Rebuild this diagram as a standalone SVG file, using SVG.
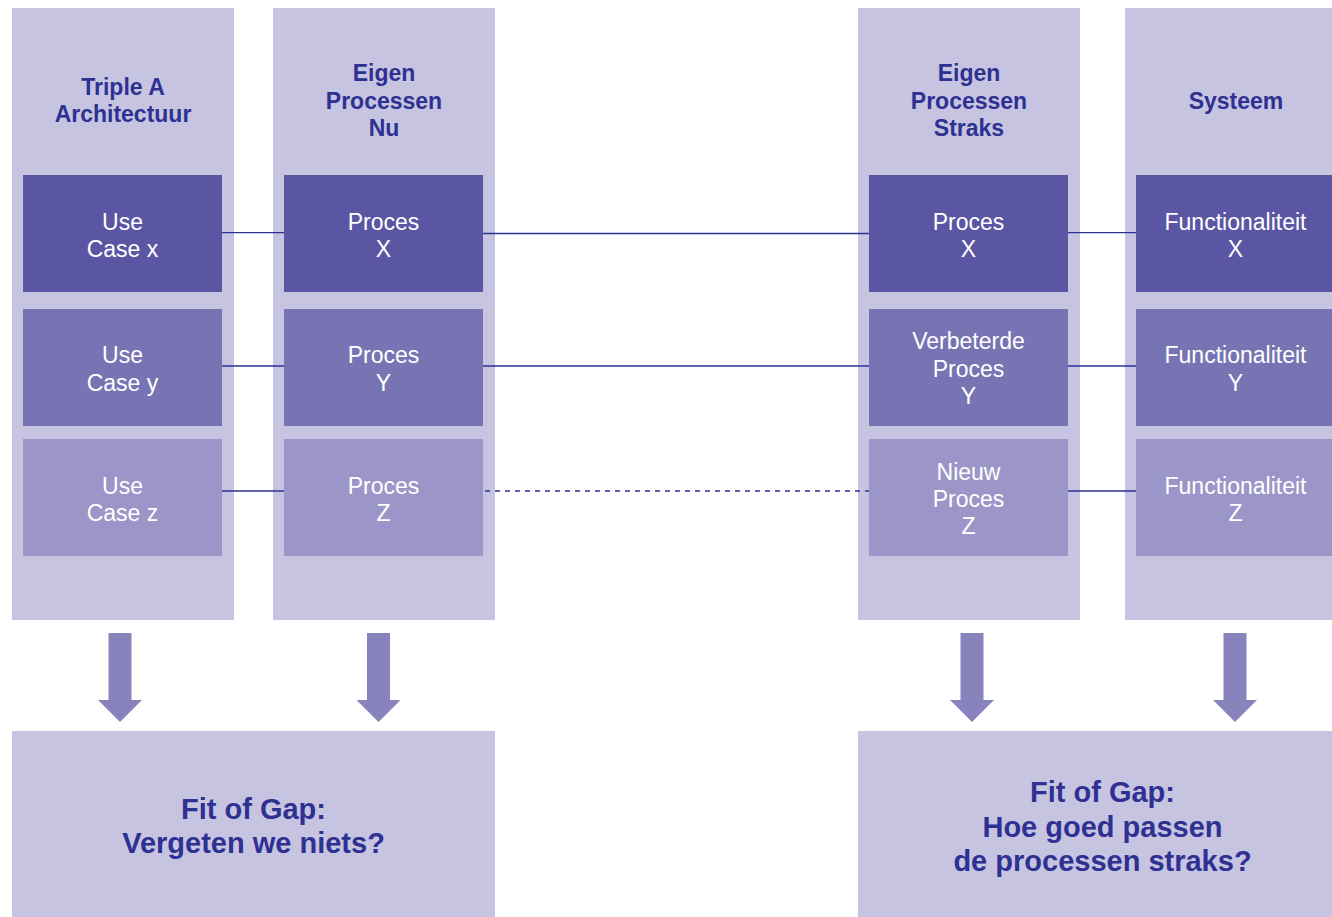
<svg xmlns="http://www.w3.org/2000/svg" width="1332" height="917" viewBox="0 0 1332 917">
  <style>
    .panel { fill: #c6c4e1; }
    .dark { fill: #5a56a3; }
    .mid { fill: #7874b4; }
    .light { fill: #9c96c8; }
    .arrow { fill: #8983bd; }
    .title { font-family: "Liberation Sans", Arial, sans-serif; font-weight: bold; font-size: 23px; fill: #2e3092; text-anchor: middle; }
    .big { font-family: "Liberation Sans", Arial, sans-serif; font-weight: bold; font-size: 29px; fill: #2e3092; text-anchor: middle; }
    .label { font-family: "Liberation Sans", Arial, sans-serif; font-size: 23px; fill: #ffffff; text-anchor: middle; }
    .link { stroke: #2e3192; stroke-width: 1.3; fill: none; }
    .dashed { stroke-dasharray: 5 5; }
  </style>
  <defs>
    <path id="down" d="M-11.5,0 H11.5 V67 H22 L0,89 L-22,67 H-11.5 Z"/>
  </defs>
  <rect width="1332" height="917" fill="#ffffff"/>

  <!-- column panels -->
  <g id="col-triple-a">
    <rect class="panel" x="12" y="8" width="222" height="612"/>
    <text class="title" x="123" y="95">Triple A</text>
    <text class="title" x="123" y="122">Architectuur</text>
  </g>
  <g id="col-eigen-nu">
    <rect class="panel" x="273" y="8" width="222" height="612"/>
    <text class="title" x="384" y="81">Eigen</text>
    <text class="title" x="384" y="109">Processen</text>
    <text class="title" x="384" y="136">Nu</text>
  </g>
  <g id="col-eigen-straks">
    <rect class="panel" x="858" y="8" width="222" height="612"/>
    <text class="title" x="969" y="81">Eigen</text>
    <text class="title" x="969" y="109">Processen</text>
    <text class="title" x="969" y="136">Straks</text>
  </g>
  <g id="col-systeem">
    <rect class="panel" x="1125" y="8" width="222" height="612"/>
    <text class="title" x="1236" y="109">Systeem</text>
  </g>

  <!-- connectors -->
  <g id="connectors">
    <line class="link" x1="222" y1="232.7" x2="284" y2="232.7"/>
    <line class="link" x1="483" y1="233.5" x2="869" y2="233.5"/>
    <line class="link" x1="1068" y1="232.7" x2="1136" y2="232.7"/>
    <line class="link" x1="222" y1="366" x2="284" y2="366"/>
    <line class="link" x1="483" y1="366" x2="869" y2="366"/>
    <line class="link" x1="1068" y1="366" x2="1136" y2="366"/>
    <line class="link" x1="222" y1="491" x2="284" y2="491"/>
    <line class="link dashed" x1="485" y1="491" x2="869" y2="491"/>
    <line class="link" x1="1068" y1="491" x2="1136" y2="491"/>
  </g>

  <!-- Triple A column -->
  <g id="use-case-x">
    <rect class="dark" x="23" y="175" width="199" height="117"/>
    <text class="label" x="122.5" y="230">Use</text>
    <text class="label" x="122.5" y="257">Case x</text>
  </g>
  <g id="use-case-y">
    <rect class="mid" x="23" y="309" width="199" height="117"/>
    <text class="label" x="122.5" y="363">Use</text>
    <text class="label" x="122.5" y="391">Case y</text>
  </g>
  <g id="use-case-z">
    <rect class="light" x="23" y="439" width="199" height="117"/>
    <text class="label" x="122.5" y="494">Use</text>
    <text class="label" x="122.5" y="521">Case z</text>
  </g>

  <!-- current processes -->
  <g id="proces-x-nu">
    <rect class="dark" x="284" y="175" width="199" height="117"/>
    <text class="label" x="383.5" y="230">Proces</text>
    <text class="label" x="383.5" y="257">X</text>
  </g>
  <g id="proces-y-nu">
    <rect class="mid" x="284" y="309" width="199" height="117"/>
    <text class="label" x="383.5" y="363">Proces</text>
    <text class="label" x="383.5" y="391">Y</text>
  </g>
  <g id="proces-z-nu">
    <rect class="light" x="284" y="439" width="199" height="117"/>
    <text class="label" x="383.5" y="494">Proces</text>
    <text class="label" x="383.5" y="521">Z</text>
  </g>

  <!-- future processes -->
  <g id="proces-x-straks">
    <rect class="dark" x="869" y="175" width="199" height="117"/>
    <text class="label" x="968.5" y="230">Proces</text>
    <text class="label" x="968.5" y="257">X</text>
  </g>
  <g id="proces-y-straks">
    <rect class="mid" x="869" y="309" width="199" height="117"/>
    <text class="label" x="968.5" y="349">Verbeterde</text>
    <text class="label" x="968.5" y="377">Proces</text>
    <text class="label" x="968.5" y="404">Y</text>
  </g>
  <g id="proces-z-straks">
    <rect class="light" x="869" y="439" width="199" height="117"/>
    <text class="label" x="968.5" y="480">Nieuw</text>
    <text class="label" x="968.5" y="507">Proces</text>
    <text class="label" x="968.5" y="534">Z</text>
  </g>

  <!-- system functionality -->
  <g id="functionaliteit-x">
    <rect class="dark" x="1136" y="175" width="199" height="117"/>
    <text class="label" x="1235.5" y="230">Functionaliteit</text>
    <text class="label" x="1235.5" y="257">X</text>
  </g>
  <g id="functionaliteit-y">
    <rect class="mid" x="1136" y="309" width="199" height="117"/>
    <text class="label" x="1235.5" y="363">Functionaliteit</text>
    <text class="label" x="1235.5" y="391">Y</text>
  </g>
  <g id="functionaliteit-z">
    <rect class="light" x="1136" y="439" width="199" height="117"/>
    <text class="label" x="1235.5" y="494">Functionaliteit</text>
    <text class="label" x="1235.5" y="521">Z</text>
  </g>

  <!-- down arrows -->
  <g id="arrows">
    <use href="#down" class="arrow" x="120" y="633"/>
    <use href="#down" class="arrow" x="378.5" y="633"/>
    <use href="#down" class="arrow" x="972" y="633"/>
    <use href="#down" class="arrow" x="1235" y="633"/>
  </g>

  <!-- conclusions -->
  <g id="fit-gap-nu">
    <rect class="panel" x="12" y="731" width="483" height="186"/>
    <text class="big" x="253.5" y="819">Fit of Gap:</text>
    <text class="big" x="253.5" y="853">Vergeten we niets?</text>
  </g>
  <g id="fit-gap-straks">
    <rect class="panel" x="858" y="731" width="489" height="186"/>
    <text class="big" x="1102.5" y="802">Fit of Gap:</text>
    <text class="big" x="1102.5" y="837">Hoe goed passen</text>
    <text class="big" x="1102.5" y="871">de processen straks?</text>
  </g>
</svg>
